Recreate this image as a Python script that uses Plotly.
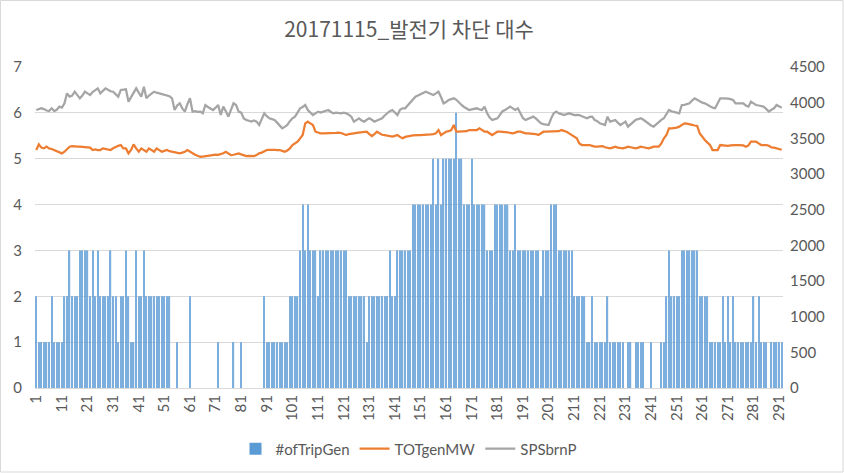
import plotly.graph_objects as go

# ---- data ----
trip_gen = [
    2, 1, 1, 1, 1, 1, 2, 1, 1, 1,
    1, 2, 2, 3, 2, 2, 2, 3, 3, 3,
    3, 2, 3, 2, 3, 2, 2, 2, 2, 3,
    2, 2, 1, 2, 2, 3, 2, 1, 1, 3,
    2, 2, 3, 2, 2, 2, 2, 2, 2, 2,
    2, 2, 2, 0, 0, 1, 0, 0, 0, 0,
    2, 0, 0, 0, 0, 0, 0, 0, 0, 0,
    0, 1, 0, 0, 0, 0, 0, 1, 0, 0,
    1, 0, 0, 0, 0, 0, 0, 0, 0, 2,
    1, 1, 1, 1, 1, 1, 1, 1, 1, 2,
    2, 2, 2, 3, 4, 3, 4, 3, 3, 3,
    2, 3, 3, 3, 3, 3, 3, 3, 3, 3,
    3, 3, 2, 2, 2, 2, 2, 2, 2, 1,
    2, 2, 2, 2, 2, 2, 2, 2, 3, 2,
    2, 3, 3, 3, 3, 3, 3, 4, 4, 4,
    4, 4, 4, 4, 4, 5, 4, 5, 4, 5,
    5, 5, 5, 5, 6, 5, 5, 4, 4, 4,
    5, 4, 4, 4, 4, 4, 3, 3, 3, 4,
    4, 4, 4, 4, 4, 3, 3, 4, 3, 3,
    3, 3, 3, 3, 3, 3, 3, 2, 3, 3,
    3, 4, 4, 4, 3, 3, 3, 3, 3, 3,
    2, 2, 2, 2, 2, 1, 1, 2, 1, 1,
    1, 1, 1, 2, 1, 1, 1, 1, 1, 1,
    0, 1, 1, 0, 1, 1, 1, 1, 0, 0,
    1, 0, 0, 0, 1, 1, 2, 3, 2, 2,
    2, 2, 3, 3, 3, 3, 3, 3, 3, 2,
    2, 2, 2, 1, 1, 1, 1, 1, 2, 1,
    2, 1, 2, 1, 1, 1, 1, 1, 1, 1,
    2, 1, 2, 1, 1, 1, 0, 1, 1, 1,
    1, 1,
]

tot_gen_mw = [
    3336, 3415, 3370, 3359, 3383, 3359, 3350, 3336, 3312, 3300,
    3289, 3312, 3350, 3383, 3390, 3392, 3385, 3383, 3380, 3383,
    3383, 3370, 3336, 3345, 3336, 3336, 3359, 3350, 3345, 3336,
    3360, 3383, 3395, 3406, 3359, 3359, 3289, 3336, 3415, 3360,
    3312, 3359, 3330, 3312, 3359, 3340, 3312, 3359, 3330, 3312,
    3325, 3336, 3320, 3312, 3305, 3300, 3289, 3300, 3312, 3336,
    3310, 3289, 3270, 3255, 3242, 3245, 3251, 3260, 3258, 3265,
    3270, 3268, 3275, 3290, 3312, 3290, 3265, 3270, 3280, 3289,
    3275, 3260, 3251, 3255, 3251, 3251, 3265, 3289, 3300, 3320,
    3336, 3340, 3345, 3340, 3336, 3336, 3325, 3312, 3330, 3359,
    3406, 3430, 3453, 3500, 3546, 3710, 3733, 3710, 3687, 3593,
    3580, 3570, 3570, 3570, 3570, 3565, 3570, 3575, 3579, 3575,
    3560, 3546, 3560, 3570, 3570, 3575, 3579, 3585, 3590, 3593,
    3560, 3533, 3560, 3593, 3570, 3550, 3546, 3535, 3530, 3523,
    3535, 3546, 3520, 3500, 3520, 3533, 3535, 3540, 3546, 3546,
    3546, 3546, 3546, 3550, 3555, 3560, 3570, 3616, 3546, 3570,
    3593, 3600, 3616, 3687, 3593, 3593, 3593, 3593, 3600, 3616,
    3616, 3616, 3616, 3640, 3610, 3593, 3593, 3570, 3546, 3570,
    3593, 3593, 3593, 3593, 3585, 3575, 3570, 3580, 3593, 3593,
    3580, 3570, 3570, 3570, 3570, 3560, 3546, 3570, 3593, 3593,
    3593, 3593, 3593, 3593, 3600, 3616, 3605, 3593, 3570, 3546,
    3520, 3500, 3429, 3406, 3406, 3406, 3406, 3395, 3383, 3383,
    3392, 3392, 3375, 3365, 3359, 3370, 3383, 3370, 3359, 3359,
    3370, 3383, 3375, 3365, 3359, 3370, 3383, 3375, 3365, 3359,
    3370, 3383, 3383, 3383, 3429, 3500, 3546, 3640, 3640, 3640,
    3650, 3664, 3690, 3710, 3705, 3701, 3690, 3680, 3673, 3570,
    3520, 3476, 3440, 3406, 3336, 3336, 3336, 3406, 3400, 3392,
    3395, 3400, 3406, 3406, 3405, 3406, 3400, 3383, 3400, 3453,
    3453, 3453, 3430, 3406, 3406, 3406, 3395, 3373, 3370, 3360,
    3345, 3340,
]

sps_brn_p = [
    3897, 3905, 3921, 3910, 3890, 3883, 3921, 3883, 3900, 3944,
    3930, 3991, 4131, 4084, 4100, 4154, 4110, 4061, 4100, 4154,
    4130, 4108, 4150, 4180, 4201, 4131, 4170, 4201, 4180, 4160,
    4154, 4120, 4084, 4178, 4180, 4187, 4014, 4080, 4131, 4201,
    4140, 4084, 4224, 4061, 4100, 4130, 4154, 4140, 4131, 4125,
    4110, 4108, 4090, 4061, 3897, 3960, 3991, 3920, 3874, 3980,
    4061, 3874, 3880, 3870, 3874, 3851, 3967, 3940, 3921, 3897,
    3930, 3967, 3827, 3944, 3880, 3804, 3900, 3991, 3967, 3874,
    3860, 3780, 3757, 3740, 3734, 3750, 3734, 3687, 3780, 3851,
    3810, 3781, 3770, 3757, 3720, 3687, 3641, 3660, 3687, 3740,
    3781, 3804, 3860, 3921, 3940, 3967, 3897, 3860, 3827, 3850,
    3874, 3860, 3874, 3880, 3897, 3870, 3851, 3860, 3851, 3850,
    3860, 3851, 3830, 3804, 3734, 3760, 3781, 3750, 3734, 3760,
    3781, 3760, 3734, 3750, 3770, 3781, 3820, 3851, 3880, 3897,
    3860, 3827, 3900, 3921, 3921, 3960, 4014, 4050, 4084, 4100,
    4120, 4140, 4154, 4140, 4120, 4108, 4130, 4154, 4080, 3991,
    4010, 4038, 4050, 4061, 4040, 4000, 3967, 3940, 3920, 3897,
    3905, 3915, 3921, 3905, 3897, 3944, 3851, 3790, 3757, 3770,
    3781, 3830, 3880, 3897, 3920, 3944, 3920, 3897, 3921, 3860,
    3781, 3757, 3770, 3790, 3804, 3780, 3740, 3711, 3700, 3695,
    3687, 3780, 3851, 3874, 3850, 3840, 3827, 3840, 3851, 3840,
    3827, 3830, 3827, 3810, 3790, 3781, 3800, 3804, 3757, 3740,
    3711, 3700, 3687, 3804, 3734, 3745, 3757, 3720, 3687, 3710,
    3734, 3664, 3700, 3734, 3760, 3770, 3781, 3760, 3734, 3700,
    3680, 3664, 3700, 3734, 3760, 3781, 3840, 3897, 3880, 3874,
    3860, 3851, 3967, 3970, 3980, 3991, 4030, 4061, 4040, 4014,
    4000, 3991, 3970, 3944, 3930, 3921, 3990, 4061, 4061, 4061,
    4055, 4050, 4038, 3991, 3995, 3991, 3991, 3960, 3944, 4014,
    3990, 3967, 3960, 3950, 3944, 3910, 3874, 3900, 3921, 3967,
    3944, 3930,
]

categories = list(range(1, len(trip_gen) + 1))
x_tick_labels = [str(v) for v in range(1, 292, 10)]

title_text = "20171115_발전기 차단 대수"
left_ticks = [0, 1, 2, 3, 4, 5, 6, 7]
right_ticks = [0, 500, 1000, 1500, 2000, 2500, 3000, 3500, 4000, 4500]

# ---- figure ----
FONT = "Lato, 'Noto Sans CJK KR', sans-serif"
TXT = "#595959"

fig = go.Figure()
fig.add_trace(go.Bar(
    x=categories, y=trip_gen, name="#ofTripGen",
    marker=dict(color="#5B9BD5", line=dict(width=0), opacity=0.8),
    yaxis="y",
))
fig.add_trace(go.Scatter(
    x=categories, y=tot_gen_mw, name="TOTgenMW", mode="lines",
    line=dict(color="#ED7D31", width=2.25), yaxis="y2",
))
fig.add_trace(go.Scatter(
    x=categories, y=sps_brn_p, name="SPSbrnP", mode="lines",
    line=dict(color="#A5A5A5", width=2.25), yaxis="y2",
))

W, H = 844, 473
ml, mr, mt, mb = 35, 61, 67, 85
pw, ph = W - ml - mr, H - mt - mb

fig.update_layout(
    width=W, height=H,
    margin=dict(l=ml, r=mr, t=mt, b=mb, autoexpand=False),
    paper_bgcolor="white", plot_bgcolor="white",
    font=dict(family=FONT, color=TXT, size=15),
    title=dict(text=title_text, x=0.5, xref="paper", xanchor="center",
               y=1 - 30 / H, yref="container", yanchor="middle",
               font=dict(size=21, color=TXT,
                         family="'Noto Sans CJK KR', Lato, sans-serif")),
    bargap=0.5,
    showlegend=True,
    legend=dict(orientation="h", x=0.5, xanchor="center", y=-0.19,
                yanchor="middle", font=dict(size=15, color=TXT),
                itemwidth=30, traceorder="normal"),
    xaxis=dict(
        range=[0.5, len(categories) + 0.5],
        tickmode="array",
        tickvals=list(range(1, 292, 10)),
        ticktext=x_tick_labels,
        tickangle=-90, automargin=False,
        showgrid=False, zeroline=False,
        showline=True, linecolor="#D9D9D9", linewidth=1,
        ticks="", tickfont=dict(size=15, color=TXT),
    ),
    yaxis=dict(
        range=[0, 7], tickvals=left_ticks, automargin=False,
        showgrid=True, gridcolor="#D9D9D9", gridwidth=1,
        zeroline=False, showline=False, ticks="",
        ticklabelstandoff=12,
        tickfont=dict(size=15, color=TXT),
    ),
    yaxis2=dict(
        range=[0, 4500], tickvals=right_ticks, automargin=False,
        overlaying="y", side="right",
        showgrid=False, zeroline=False, showline=False, ticks="",
        ticklabelstandoff=6,
        tickfont=dict(size=15, color=TXT),
    ),
)

# chart-area border like the spreadsheet chart
fig.add_shape(type="rect", xref="paper", yref="paper",
              x0=-ml / pw + 0.5 / pw, x1=1 + (mr - 1) / pw,
              y0=-(mb - 1) / ph, y1=1 + (mt - 0.5) / ph,
              line=dict(color="#D9D9D9", width=1), fillcolor="rgba(0,0,0,0)",
              layer="below")

fig.write_html("out.html",
               config={"displayModeBar": False},
               post_script="document.body.style.margin='0';document.body.style.padding='0';")
